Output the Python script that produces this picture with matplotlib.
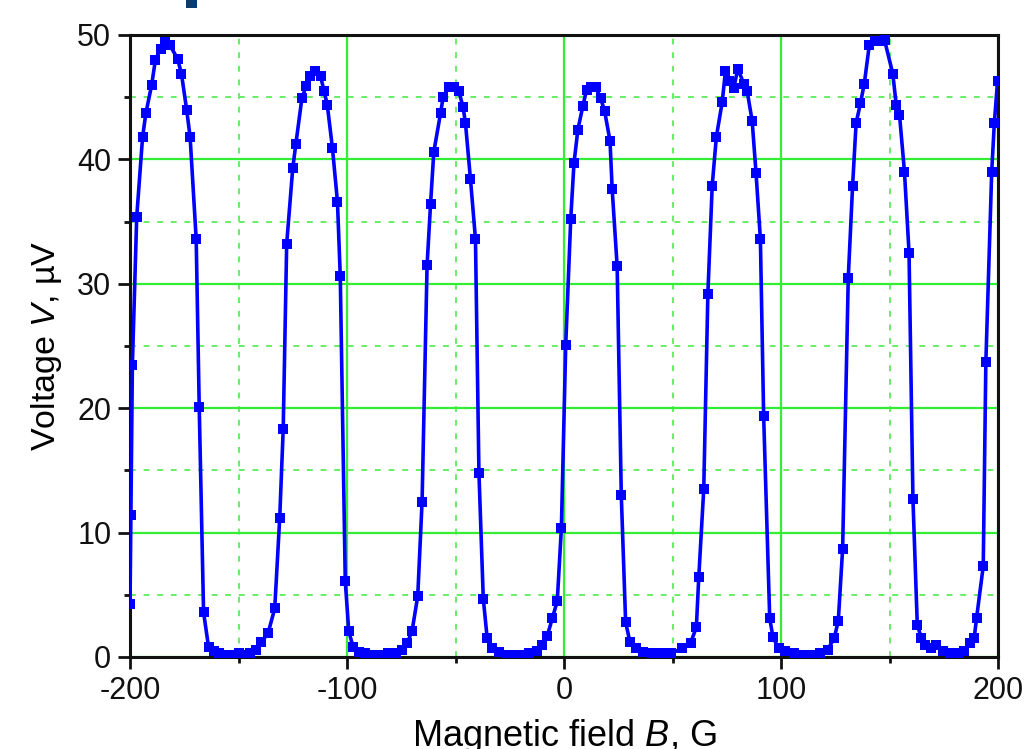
import matplotlib
matplotlib.use("Agg")
import matplotlib.pyplot as plt
from matplotlib.ticker import MultipleLocator
from matplotlib.patches import Rectangle

plt.rcParams['font.family'] = ['Liberation Sans', 'DejaVu Sans']
plt.rcParams['mathtext.fontset'] = 'custom'
plt.rcParams['mathtext.rm'] = 'Liberation Sans'
plt.rcParams['mathtext.it'] = 'Liberation Sans:italic'

# Magnetic field B (G)
field_B = [
    -200.0, -199.6, -198.9, -196.9, -194.2, -192.7, -190.0, -188.3, -185.9, -183.7,
    -181.7, -178.1, -176.3, -173.9, -172.3, -169.5, -168.1, -166.1, -163.8, -161.5,
    -159.0, -156.0, -153.0, -150.0, -147.0, -144.5, -142.0, -139.5, -136.4, -133.3,
    -131.0, -129.4, -127.8, -125.0, -123.6, -120.8, -118.8, -116.9, -114.8, -112.2,
    -110.6, -109.1, -106.7, -104.4, -103.1, -100.8, -99.2, -97.2, -94.5, -91.5,
    -88.0, -84.5, -81.0, -77.5, -74.5, -72.3, -70.0, -67.4, -65.4, -63.1,
    -61.5, -60.0, -56.9, -55.7, -53.1, -50.8, -48.5, -46.5, -45.4, -43.1,
    -40.8, -39.2, -37.2, -35.4, -33.1, -30.0, -26.5, -23.0, -19.5, -16.0,
    -12.5, -10.0, -7.7, -5.4, -3.1, -1.2, 0.8, 3.1, 4.6, 6.4,
    8.7, 10.4, 12.3, 14.6, 16.9, 18.7, 21.2, 22.2, 24.5, 26.4,
    28.4, 30.4, 33.0, 36.5, 40.5, 45.0, 49.5, 54.4, 58.3, 61.0,
    62.1, 64.4, 66.3, 68.3, 70.2, 72.9, 74.4, 75.9, 78.2, 80.1,
    82.8, 84.4, 86.7, 88.5, 90.5, 92.0, 94.8, 96.3, 98.9, 102.0,
    106.0, 110.0, 114.0, 118.0, 121.5, 124.5, 126.4, 128.4, 131.0, 133.0,
    134.6, 136.6, 138.4, 140.7, 143.1, 145.4, 147.7, 151.5, 153.1, 154.6,
    156.9, 159.0, 160.8, 162.8, 164.7, 166.2, 169.3, 171.6, 174.5, 178.0,
    181.5, 184.5, 187.0, 189.0, 190.1, 193.2, 194.4, 197.1, 198.3, 199.8,
]
# Voltage V (uV)
voltage_V = [
    4.3, 11.4, 23.5, 35.4, 41.8, 43.7, 46.0, 48.0, 48.9, 49.4,
    49.2, 48.1, 46.9, 44.0, 41.8, 33.6, 20.1, 3.6, 0.8, 0.5,
    0.3, 0.2, 0.2, 0.3, 0.2, 0.3, 0.6, 1.2, 1.9, 3.9,
    11.2, 18.3, 33.2, 39.3, 41.2, 44.9, 45.9, 46.7, 47.1, 46.7,
    45.5, 44.4, 40.9, 36.6, 30.6, 6.1, 2.1, 0.8, 0.4, 0.3,
    0.2, 0.2, 0.3, 0.3, 0.6, 1.1, 2.1, 4.9, 12.5, 31.5,
    36.4, 40.6, 43.7, 45.0, 45.8, 45.8, 45.5, 44.2, 42.9, 38.4,
    33.6, 14.8, 4.7, 1.5, 0.7, 0.4, 0.2, 0.2, 0.2, 0.3,
    0.5, 1.0, 1.7, 3.1, 4.5, 10.4, 25.1, 35.2, 39.7, 42.4,
    44.3, 45.6, 45.8, 45.8, 44.9, 43.9, 41.5, 37.6, 31.4, 13.0,
    2.8, 1.2, 0.7, 0.4, 0.3, 0.3, 0.3, 0.7, 1.1, 2.4,
    6.4, 13.5, 29.2, 37.9, 41.8, 44.6, 47.1, 46.3, 45.7, 47.3,
    46.1, 45.5, 43.1, 38.9, 33.6, 19.4, 3.1, 1.6, 0.7, 0.5,
    0.3, 0.2, 0.2, 0.3, 0.6, 1.5, 2.9, 8.7, 30.5, 37.9,
    42.9, 44.5, 46.1, 49.2, 49.5, 49.5, 49.6, 46.9, 44.4, 43.6,
    39.0, 32.5, 12.7, 2.6, 1.5, 1.0, 0.7, 1.0, 0.5, 0.3,
    0.3, 0.5, 1.1, 1.5, 3.1, 7.3, 23.7, 39.0, 42.9, 46.3,
]

x_ticks = [-200, -100, 0, 100, 200]
x_tick_labels = ['-200', '-100', '0', '100', '200']
y_ticks = [0, 10, 20, 30, 40, 50]

fig = plt.figure(figsize=(10.25, 7.49), dpi=100)
ax = fig.add_axes([130/1025, (749-657)/749, 868/1025, 622/749])

ax.set_xlim(-200, 200)
ax.set_ylim(0, 50)
ax.set_xticks(x_ticks)
ax.set_xticklabels(x_tick_labels)
ax.set_yticks(y_ticks)
ax.xaxis.set_minor_locator(MultipleLocator(50))
ax.yaxis.set_minor_locator(MultipleLocator(5))

ax.grid(True, which='major', color='#33ee33', linewidth=1.6, linestyle='-', zorder=0)
ax.grid(True, which='minor', color='#66ee66', linewidth=1.4, linestyle=(0, (3, 4)), zorder=0)
ax.set_axisbelow(True)

ax.plot(field_B, voltage_V, color='#0000ff', linewidth=2.6, marker='s',
        markersize=7, markeredgewidth=0, zorder=3)

for s in ax.spines.values():
    s.set_linewidth(2.2)
    s.set_color('#111111')

ax.tick_params(axis='both', which='major', direction='out', length=8.5, width=2,
               labelsize=22, pad=5, top=False, right=False, colors='#111111')
ax.tick_params(axis='both', which='minor', direction='out', length=4.5, width=2,
               top=False, right=False, colors='#111111')

ax.set_ylabel('Voltage $V$, µV', fontsize=24.5)
ax.yaxis.set_label_coords(-0.076, 0.5)
ax.set_xlabel('Magnetic field $B$, G', fontsize=26, va='top')
ax.xaxis.set_label_coords(0.5, -0.097)

# cropped dark fragment at the top edge of the image
fig.add_artist(Rectangle((186/1025, 1 - 8/749), 11/1025, 8/749,
                         transform=fig.transFigure, color='#0b3c6e', lw=0))

fig.savefig('out.png', dpi=100)
